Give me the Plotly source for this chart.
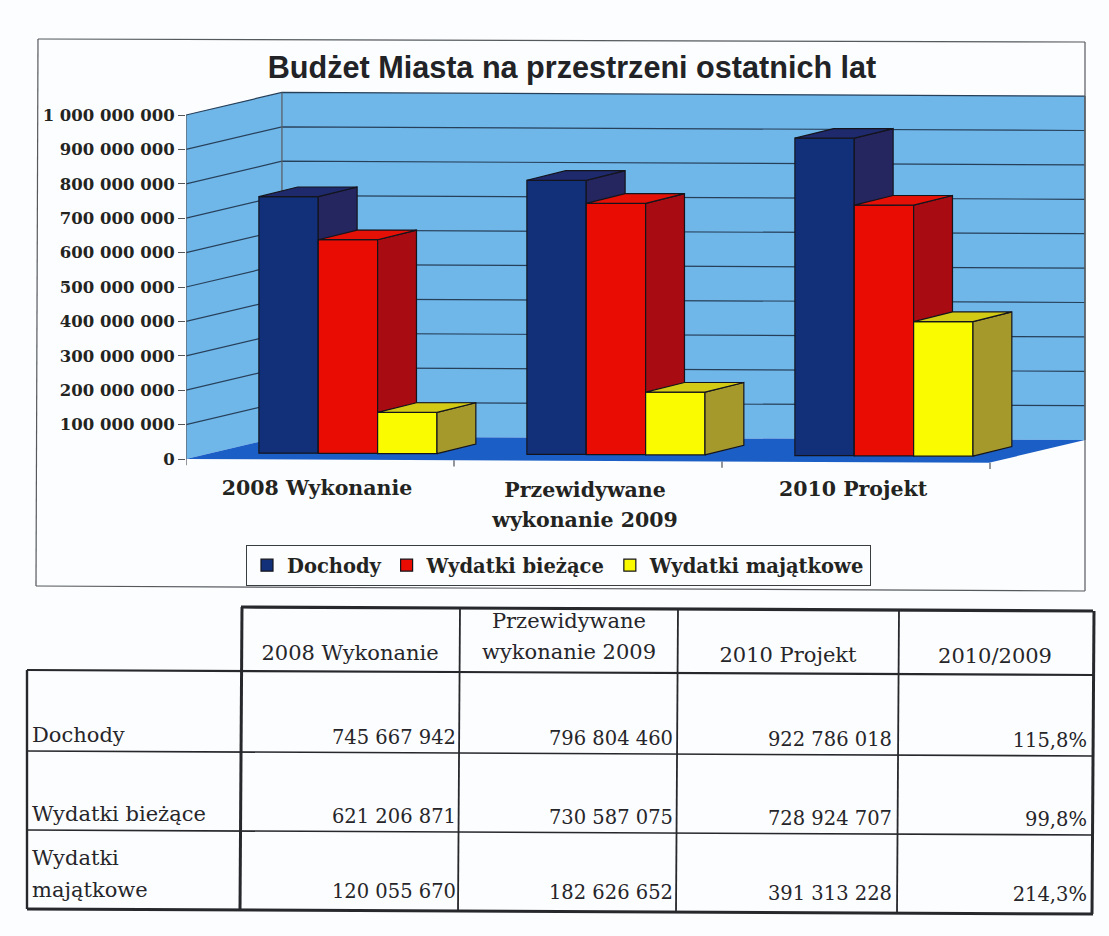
import plotly.graph_objects as go

# ---------- data ----------
title = "Budżet Miasta na przestrzeni ostatnich lat"
categories = [["2008 Wykonanie"], ["Przewidywane", "wykonanie 2009"], ["2010 Projekt"]]
series_names = ["Dochody", "Wydatki bieżące", "Wydatki majątkowe"]
dochody = [745667942, 796804460, 922786018]
wydatki_biezace = [621206871, 730587075, 728924707]
wydatki_majatkowe = [120055670, 182626652, 391313228]
tick_values = [0, 100000000, 200000000, 300000000, 400000000, 500000000,
               600000000, 700000000, 800000000, 900000000, 1000000000]
tick_labels = ["0", "100 000 000", "200 000 000", "300 000 000", "400 000 000", "500 000 000",
               "600 000 000", "700 000 000", "800 000 000", "900 000 000", "1 000 000 000"]
table_headers = ["2008 Wykonanie", ["Przewidywane", "wykonanie 2009"], "2010 Projekt", "2010/2009"]
table_rows = [
    (["Dochody"], ["745 667 942", "796 804 460", "922 786 018", "115,8%"]),
    (["Wydatki bieżące"], ["621 206 871", "730 587 075", "728 924 707", "99,8%"]),
    (["Wydatki", "majątkowe"], ["120 055 670", "182 626 652", "391 313 228", "214,3%"]),
]

# ---------- page / style ----------
W, H = 1109, 936
PAPER = "#fcfdfe"
SERIF = "DejaVu Serif"
X0, XPX = 186, 268          # px of x=0, px per group
Y0, YPX = 459, 344          # px of value 0, px per 1e9
PLOT_L, PLOT_R, PLOT_T, PLOT_B = 186, 1100, 88, 472
xr = [0, (PLOT_R - X0) / XPX]
yr = [(Y0 - PLOT_B) / YPX * 1e9, (Y0 - PLOT_T) / YPX * 1e9]
dom_x = [PLOT_L / W, PLOT_R / W]
dom_y = [1 - PLOT_B / H, 1 - PLOT_T / H]

SKEW = 3.6e6                # scan tilt, value per x unit
WALL_DX, WALL_DY = 0.358, 67e6
BAR_DX, BAR_DY = 0.145, 28e6
BAR_W, BAR_START, BAR_LIFT = 0.2215, 0.272, 18e6
WALL_END = (1085 - X0) / XPX
OUT = "#14141c"

def lvl(x, v):
    return v - SKEW * x

fig = go.Figure()

# ---------- walls and floor (base layer) ----------
def poly(pts, fill, line="rgba(0,0,0,0)", lw=0, **kw):
    xs = [p[0] for p in pts] + [pts[0][0]]
    ys = [p[1] for p in pts] + [pts[0][1]]
    return go.Scatter(x=xs, y=ys, mode="lines", fill="toself", fillcolor=fill,
                      line=dict(color=line, width=lw), hoverinfo="skip", showlegend=False, **kw)

WALL = "#6fb6e9"
top = tick_values[-1]
fig.add_trace(poly([(0, lvl(0, 0)), (WALL_DX, lvl(WALL_DX, WALL_DY)), (WALL_DX, lvl(WALL_DX, top + WALL_DY)), (0, lvl(0, top))], WALL))
fig.add_trace(poly([(WALL_DX, lvl(WALL_DX, WALL_DY)), (WALL_END, lvl(WALL_END, WALL_DY)),
                    (WALL_END, lvl(WALL_END, top + WALL_DY)), (WALL_DX, lvl(WALL_DX, top + WALL_DY))], WALL))
fig.add_trace(poly([(0, lvl(0, 0)), (WALL_DX, lvl(WALL_DX, WALL_DY)), (WALL_END, lvl(WALL_END, WALL_DY)),
                    (WALL_END - WALL_DX, lvl(WALL_END - WALL_DX, 0))], "#1b5fc6"))
# gridlines
gx, gy = [], []
for v in tick_values[1:]:
    gx += [0, WALL_DX, WALL_END, None]
    gy += [lvl(0, v), lvl(WALL_DX, v + WALL_DY), lvl(WALL_END, v + WALL_DY), None]
fig.add_trace(go.Scatter(x=gx, y=gy, mode="lines", line=dict(color="#27405a", width=1.2),
                         hoverinfo="skip", showlegend=False))
# wall edges, axis lines and category ticks
ex = [WALL_DX, WALL_DX, None, WALL_END, WALL_END, None, 0, 0, None]
ey = [lvl(WALL_DX, WALL_DY), lvl(WALL_DX, top + WALL_DY), None, lvl(WALL_END, WALL_DY), lvl(WALL_END, top + WALL_DY), None,
      lvl(0, 0), lvl(0, top), None]
for g in range(4):
    ex += [g, g, None]
    ey += [lvl(g, 0), lvl(g, -18e6), None]
fig.add_trace(go.Scatter(x=ex, y=ey, mode="lines", line=dict(color="#5a6068", width=1.3),
                         hoverinfo="skip", showlegend=False, cliponaxis=False))

# ---------- bars, one overlaid layer per series ----------
values_by_series = [dochody, wydatki_biezace, wydatki_majatkowe]
colors = [("#12307a", "#25265f", "#1e2a6c"),
          ("#e80c02", "#a90b12", "#e51006"),
          ("#fbfb00", "#a6992c", "#d2ca14")]
for s, vals in enumerate(values_by_series):
    ax = s + 3
    xa, ya = f"x{ax}", f"y{ax}"
    front, side, topc = colors[s]
    lefts = [g + BAR_START + s * BAR_W for g in range(3)]
    bases = [BAR_LIFT - SKEW * x for x in lefts]
    fig.add_trace(go.Bar(x=[l + BAR_W / 2 for l in lefts], y=vals, base=bases, width=BAR_W,
                         name=series_names[s], marker=dict(color=front, line=dict(color=OUT, width=1.2)),
                         xaxis=xa, yaxis=ya))
    for l, b, v in zip(lefts, bases, vals):
        r = l + BAR_W
        fig.add_trace(poly([(r, b), (r + BAR_DX, b + BAR_DY), (r + BAR_DX, b + v + BAR_DY), (r, b + v)],
                           side, OUT, 1.2, xaxis=xa, yaxis=ya))
        fig.add_trace(poly([(l, b + v), (l + BAR_DX, b + v + BAR_DY), (r + BAR_DX, b + v + BAR_DY), (r, b + v)],
                           topc, OUT, 1.2, xaxis=xa, yaxis=ya))

# ---------- page-pixel helper axes: frame, category labels, table ----------
shapes = []
def seg(x0, y0, x1, y1, w=1.0, c="#26282c"):
    shapes.append(dict(type="line", xref="x2", yref="y2", x0=x0, y0=y0, x1=x1, y1=y1,
                       line=dict(color=c, width=w)))

# chart frame
fc = "#55595e"
seg(38, 39, 1085, 42, 1.2, fc); seg(38, 39, 36, 586, 1.2, fc)
seg(36, 586, 1085, 591, 1.2, fc); seg(1085, 42, 1085, 591, 1.2, fc)

# category labels
cat_x, cat_y, cat_t = [], [], []
for i, lines in enumerate(categories):
    for j, t in enumerate(lines):
        cat_x.append(X0 + (i + 0.489) * XPX)
        cat_y.append(490 + i * 0.5 + j * 30 + (1 if len(lines) > 1 else 0))
        cat_t.append(t)
fig.add_trace(go.Scatter(x=cat_x, y=cat_y, text=cat_t, mode="text", textposition="middle center",
                         textfont=dict(family=SERIF, size=20.5, color="#23241f", weight="bold"),
                         xaxis="x2", yaxis="y2", hoverinfo="skip", showlegend=False))

# table
TS = 0.0047
def ty(x, y_at_left):
    return y_at_left + TS * (x - 27)
col_edges = [27, 241, 459, 677, 898, 1093]
row_edges = [606, 670, 751, 830, 909]
right = col_edges[-1]
lc = "#26282c"
seg(col_edges[1], ty(col_edges[1], row_edges[0]), right, ty(right, row_edges[0]), 3.2, lc)
seg(col_edges[0], ty(col_edges[0], row_edges[1]), right, ty(right, row_edges[1]), 2.2, lc)
seg(col_edges[0], ty(col_edges[0], row_edges[2]), right, ty(right, row_edges[2]), 1.6, lc)
seg(col_edges[0], ty(col_edges[0], row_edges[3]), right, ty(right, row_edges[3]), 1.6, lc)
seg(col_edges[0], ty(col_edges[0], row_edges[4]), right, ty(right, row_edges[4]), 3.0, lc)
seg(col_edges[0], ty(col_edges[0], row_edges[1]), col_edges[0], ty(col_edges[0], row_edges[4]), 2.4, lc)
for k, ce in enumerate(col_edges[1:]):
    seg(ce + 1, ty(ce, row_edges[0]), ce - 1, ty(ce, row_edges[4]), 3.0 if k in (0, 4) else 1.8, lc)

TF_LABEL = dict(family=SERIF, size=21, color="#26262a")
TF_VALUE = dict(family=SERIF, size=19.5, color="#26262a")
centers = [350, 569, 788, 995]
hx, hy, ht = [], [], []
for c, h in zip(centers, table_headers):
    if isinstance(h, list):
        hx += [c, c]; hy += [ty(c, 620), ty(c, 651)]; ht += h
    else:
        hx.append(c); hy.append(ty(c, 653)); ht.append(h)
fig.add_trace(go.Scatter(x=hx, y=hy, text=ht, mode="text", textposition="middle center", textfont=TF_LABEL,
                         xaxis="x2", yaxis="y2", hoverinfo="skip", showlegend=False))
right_edges = [456, 673, 892, 1087]
row_mid = [737, 816, 891.5]
lx, ly, lt, vx, vy, vt = [], [], [], [], [], []
for (label, vals), m in zip(table_rows, row_mid):
    for j, t in enumerate(label):
        lx.append(32); ly.append(m - (len(label) - 1 - j) * 32); lt.append(t)
    for re_, t in zip(right_edges, vals):
        vx.append(re_); vy.append(ty(re_, m)); vt.append(t)
fig.add_trace(go.Scatter(x=lx, y=ly, text=lt, mode="text", textposition="middle right", textfont=TF_LABEL,
                         xaxis="x2", yaxis="y2", hoverinfo="skip", showlegend=False))
fig.add_trace(go.Scatter(x=vx, y=vy, text=vt, mode="text", textposition="middle left", textfont=TF_VALUE,
                         xaxis="x2", yaxis="y2", hoverinfo="skip", showlegend=False))

# ---------- layout ----------
layout = dict(
    width=W, height=H, margin=dict(l=0, r=0, t=0, b=0), autosize=False,
    paper_bgcolor=PAPER, plot_bgcolor="rgba(0,0,0,0)", barmode="overlay", shapes=shapes,
    title=dict(text=title, x=572 / W, xanchor="center", y=1 - 67 / H, yanchor="middle",
               font=dict(family="Liberation Sans", size=30.6, color="#222326", weight="bold")),
    legend=dict(orientation="h", x=246 / W, xanchor="left", y=1 - 545 / H, yanchor="top",
                bgcolor="rgba(0,0,0,0)", bordercolor="#3a3d40", borderwidth=1,
                font=dict(family=SERIF, size=19.5, color="#23241f", weight="bold"),
                itemclick=False, itemdoubleclick=False),
    xaxis=dict(domain=dom_x, range=xr, visible=False, fixedrange=True),
    yaxis=dict(domain=dom_y, range=yr, tickmode="array", tickvals=tick_values, ticktext=tick_labels,
               ticks="outside", ticklen=7, tickcolor="#555", showgrid=False, zeroline=False, showline=False,
               tickfont=dict(family=SERIF, size=16.5, color="#23241f", weight="bold"), fixedrange=True,
               anchor="x"),
    xaxis2=dict(domain=[0, 1], range=[0, W], visible=False, fixedrange=True, anchor="y2"),
    yaxis2=dict(domain=[0, 1], range=[H, 0], visible=False, fixedrange=True, anchor="x2"),
)
for ax in (3, 4, 5):
    layout[f"xaxis{ax}"] = dict(domain=dom_x, range=xr, visible=False, overlaying="x", anchor=f"y{ax}", fixedrange=True)
    layout[f"yaxis{ax}"] = dict(domain=dom_y, range=yr, visible=False, overlaying="y", anchor=f"x{ax}", fixedrange=True)
fig.update_layout(**layout)
fig.write_html("out.html", config={"displayModeBar": False}, post_script="document.body.style.margin='0';")
